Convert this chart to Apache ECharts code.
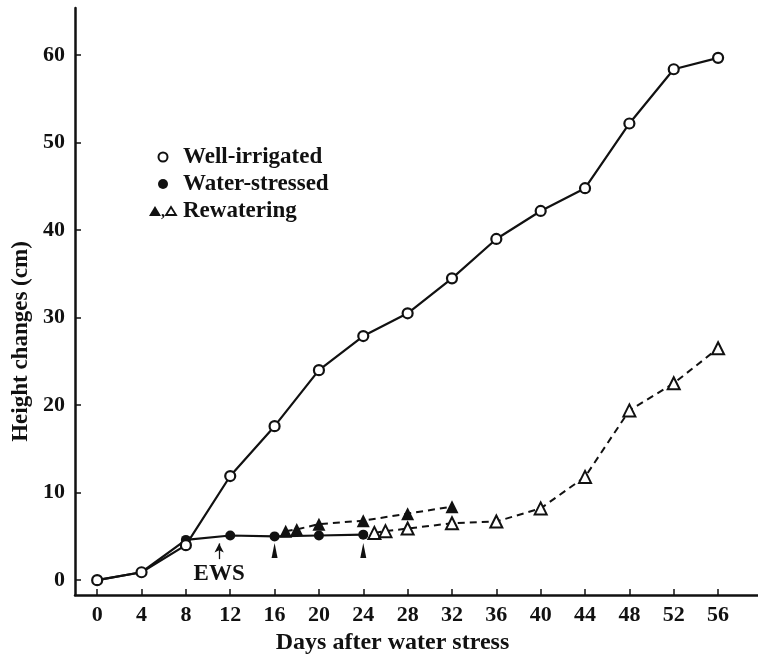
<!DOCTYPE html>
<html>
<head>
<meta charset="utf-8">
<script src="https://cdn.jsdelivr.net/npm/echarts@6/dist/echarts.min.js"></script>
<style>
  html, body { margin: 0; padding: 0; background: #fff; }
  #chart { width: 758px; height: 658px; }
</style>
</head>
<body>
<div id="chart"></div>
<script>
// days and height changes (cm)
var wellIrrigated = [
  [0, 0], [4, 0.9], [8, 4.0], [12, 11.9], [16, 17.6], [20, 24.0], [24, 27.9],
  [28, 30.5], [32, 34.5], [36, 39.0], [40, 42.2], [44, 44.8], [48, 52.2],
  [52, 58.4], [56, 59.7]
];
var waterStressed = [
  [0, 0], [4, 0.9], [8, 4.6], [12, 5.1], [16, 5.0], [20, 5.1], [24, 5.2]
];
// rewatered after 16 days of stress (filled triangles)
var rewater16 = [
  [17, 5.6], [18, 5.8], [20, 6.4], [24, 6.8], [28, 7.6], [32, 8.4]
];
// rewatered after 24 days of stress (open triangles)
var rewater24 = [
  [25, 5.4], [26, 5.6], [28, 5.9], [32, 6.5], [36, 6.7], [40, 8.2],
  [44, 11.8], [48, 19.4], [52, 22.5], [56, 26.5]
];
// arrows marking start of rewatering
var rewaterArrows = [[16, 3.4], [24, 3.4]];
var ewsDay = 11;

var xTicks = [0, 4, 8, 12, 16, 20, 24, 28, 32, 36, 40, 44, 48, 52, 56];
var yTicks = [0, 10, 20, 30, 40, 50, 60];

var font = '"Liberation Serif", "DejaVu Serif", serif';
var ink = '#111';

var chart = echarts.init(document.getElementById('chart'));

var option = {
  animation: false,
  backgroundColor: '#fff',
  grid: { left: 75, right: 0, top: 8, bottom: 63, outerBoundsMode: 'none' },
  xAxis: {
    type: 'value',
    min: -2,
    max: 59.6,
    name: 'Days after water stress',
    nameLocation: 'middle',
    nameGap: 33,
    nameTextStyle: { fontFamily: font, fontSize: 24, fontWeight: 'bold', color: ink, padding: [0, 48, 0, 0] },
    axisLine: { onZero: false, lineStyle: { color: ink, width: 2.5 } },
    axisTick: { inside: true, length: 6, customValues: xTicks, lineStyle: { color: ink, width: 1.5 } },
    axisLabel: { customValues: xTicks, margin: 9, fontFamily: font, fontSize: 22, fontWeight: 'bold', color: ink },
    splitLine: { show: false }
  },
  yAxis: {
    type: 'value',
    min: -1.7,
    max: 65.4,
    name: 'Height changes (cm)',
    nameLocation: 'middle',
    nameGap: 41,
    nameRotate: 90,
    nameTextStyle: { fontFamily: font, fontSize: 23, fontWeight: 'bold', color: ink, padding: [0, 80, 0, 0] },
    axisLine: { onZero: false, lineStyle: { color: ink, width: 2.5 } },
    axisTick: { inside: true, length: 6, customValues: yTicks, lineStyle: { color: ink, width: 1.5 } },
    axisLabel: { customValues: yTicks, margin: 10, fontFamily: font, fontSize: 22, fontWeight: 'bold', color: ink },
    splitLine: { show: false }
  },
  series: [
    {
      name: 'Water-stressed',
      type: 'line',
      data: waterStressed,
      symbol: 'circle',
      symbolSize: 10,
      itemStyle: { color: ink },
      lineStyle: { color: ink, width: 2.2 },
      markLine: {
        silent: true,
        symbol: ['none', 'arrow'],
        symbolSize: [7, 9],
        lineStyle: { color: ink, width: 1.3, type: 'solid' },
        label: {
          show: true,
          position: 'start',
          distance: 3,
          formatter: 'EWS',
          fontFamily: font,
          fontSize: 23,
          fontWeight: 'bold',
          color: ink
        },
        data: [[{ coord: [ewsDay, 2.4] }, { coord: [ewsDay, 4.2] }]]
      },
      z: 2
    },
    {
      name: 'Well-irrigated',
      type: 'line',
      data: wellIrrigated,
      symbol: 'circle',
      symbolSize: 10,
      itemStyle: { color: '#fff', borderColor: ink, borderWidth: 2.2 },
      lineStyle: { color: ink, width: 2.2 },
      z: 3
    },
    {
      name: 'Rewatering 16',
      type: 'line',
      data: rewater16,
      symbol: 'triangle',
      symbolSize: 13,
      itemStyle: { color: ink },
      lineStyle: { color: ink, width: 2, type: [7, 5] },
      z: 3
    },
    {
      name: 'Rewatering 24',
      type: 'line',
      data: rewater24,
      symbol: 'triangle',
      symbolSize: 12,
      itemStyle: { color: '#fff', borderColor: ink, borderWidth: 2 },
      lineStyle: { color: ink, width: 2, type: [7, 5] },
      z: 3
    },
    {
      name: 'arrows',
      type: 'scatter',
      data: rewaterArrows,
      symbol: 'path://M2,0 L4,10 L0,10 Z',
      symbolSize: [6, 15],
      itemStyle: { color: ink, opacity: 1 },
      z: 3
    }
  ],
  graphic: [
    { type: 'circle', shape: { cx: 163, cy: 157, r: 4.5 }, style: { fill: '#fff', stroke: ink, lineWidth: 2 } },
    { type: 'circle', shape: { cx: 163, cy: 184, r: 5 }, style: { fill: ink } },
    { type: 'polygon', shape: { points: [[155, 206], [161, 216], [149, 216]] }, style: { fill: ink } },
    { type: 'text', x: 161, y: 205, style: { text: ',', font: 'bold 16px ' + font, fill: ink } },
    { type: 'polygon', shape: { points: [[171, 207], [176, 215], [166, 215]] }, style: { fill: '#fff', stroke: ink, lineWidth: 1.8 } },
    { type: 'text', x: 183, y: 157, style: { text: 'Well-irrigated', font: 'bold 23px ' + font, fill: ink, verticalAlign: 'middle' } },
    { type: 'text', x: 183, y: 184, style: { text: 'Water-stressed', font: 'bold 23px ' + font, fill: ink, verticalAlign: 'middle' } },
    { type: 'text', x: 183, y: 211, style: { text: 'Rewatering', font: 'bold 23px ' + font, fill: ink, verticalAlign: 'middle' } }
  ]
};

chart.setOption(option);
</script>
</body>
</html>
